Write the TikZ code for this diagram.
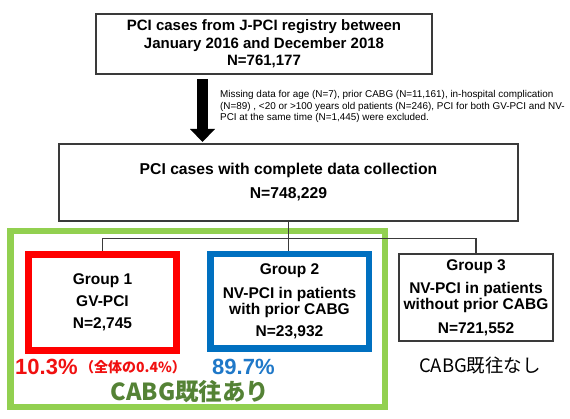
\documentclass[tikz,border=0pt]{standalone}
\usepackage{fontspec}
\setmainfont{Liberation Sans}
\newfontfamily\jpfont{Noto Sans CJK JP}
\usetikzlibrary{arrows.meta}
\definecolor{boxgray}{HTML}{3A3A3A}
\definecolor{pctred}{HTML}{F01010}
\definecolor{grpred}{HTML}{FF0000}
\definecolor{grpblue}{HTML}{0070C0}
\definecolor{pctblue}{HTML}{1F78C8}
\definecolor{cabggreen}{HTML}{92D050}
\definecolor{cabgtext}{HTML}{548235}
\begin{document}
\begin{tikzpicture}[x=1pt,y=-1pt,
  plain/.style={draw=boxgray, line width=1.2pt, fill=white, align=center, inner sep=0pt},
  grp/.style={fill=white, align=center, inner sep=0pt, font=\bfseries\fontsize{15.5}{16.5}\selectfont},
  conn/.style={draw=boxgray, line width=1.2pt},
  bigarrow/.style={line width=11.5pt, -{Triangle[width=25pt,length=13pt,line width=0pt]}},
  pct/.style={font=\bfseries\fontsize{22}{22}\selectfont, anchor=west, inner sep=0pt}
]
\useasboundingbox (0,0) rectangle (570,419);

\node[plain, font=\bfseries\fontsize{15}{17.5}\selectfont, minimum width=336, minimum height=60] (top) at (264,44)
  {PCI cases from J-PCI registry between\\January 2016 and December 2018\\N=761,177};

\node[anchor=north west, align=left, inner sep=0pt, font=\fontsize{9.9}{11.2}\selectfont] (excl) at (220,90.5)
  {Missing data for age (N=7), prior CABG (N=11,161), in-hospital complication\\(N=89) , <20 or >100 years old patients (N=246), PCI for both GV-PCI and NV-\\PCI at the same time (N=1,445) were excluded.};

\node[plain, font=\bfseries\fontsize{15.7}{24}\selectfont, minimum width=459, minimum height=77] (mid) at (288.5,182.5)
  {PCI cases with complete data collection\\N=748,229};

\coordinate (as) at (202.5,79);
\coordinate (ae) at (202.5,142);
\draw[bigarrow] (as) -- (ae);

\node[draw=cabggreen, line width=6.5pt, minimum width=374.5, minimum height=175.5, inner sep=0pt] (withcabg) at (197.5,319) {};

\node[grp, draw=grpred, line width=7pt, minimum width=148, minimum height=96,
  font=\bfseries\fontsize{15.5}{17.5}\selectfont] (g1) at (102.5,302.5)
  {Group 1\\[4.5pt]GV-PCI\\[4.5pt]N=2,745};
\node[grp, draw=grpblue, line width=6.5pt, minimum width=158.5, minimum height=94.5] (g2) at (289.5,301.5)
  {Group 2\\[7pt]NV-PCI in patients\\with prior CABG\\[5.5pt]N=23,932};
\node[grp, draw=boxgray, line width=1.2pt, minimum width=154, minimum height=87] (g3) at (476,297.5)
  {Group 3\\[6.5pt]NV-PCI in patients\\without prior CABG\\[7pt]N=721,552};

\draw[conn] (mid.south) -- ++(0,17) coordinate (j);
\draw[conn] (j) -| (g1.north);
\draw[conn] (j) -| (g3.north);
\draw[conn] (j) -- (j |- g2.north);

\node[pct, text=pctred] (p1) at (15,367) {10.3\%};
\node[anchor=west, inner sep=0pt, text=pctred, font=\jpfont\bfseries\fontsize{14}{14}\selectfont] (p1all) at (80,367) {（全体の0.4\%）};
\node[pct, text=pctblue] (p2) at (212,367) {89.7\%};
\node[inner sep=0pt, text=cabgtext, font=\jpfont\bfseries\fontsize{23.5}{23.5}\selectfont] (withlabel) at (190,392) {CABG既往あり};
\node[inner sep=0pt, text=black, font=\jpfont\fontsize{18.5}{18.5}\selectfont] (withoutlabel) at (480,365) {CABG既往なし};
\end{tikzpicture}
\end{document}
